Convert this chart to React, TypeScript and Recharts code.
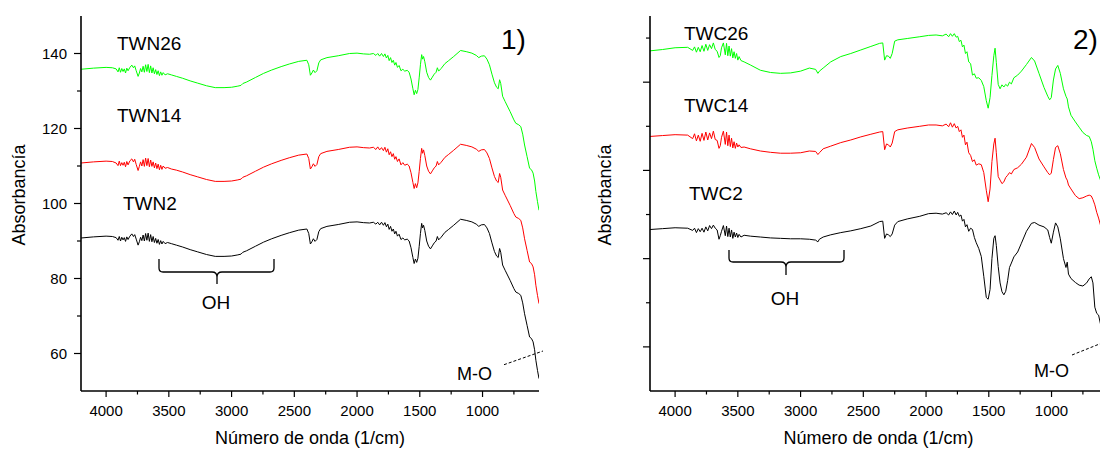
import React from 'react';
import { LineChart, Line, XAxis, YAxis } from 'recharts';

const FONT = "Arial, 'Liberation Sans', Helvetica, sans-serif";

// ---- panel 1 (TWN samples) ----
const wn1 = [
  4200, 4100, 4000, 3950, 3920, 3905, 3895, 3885, 3875, 3865,
  3855, 3845, 3835, 3825, 3810, 3795, 3782, 3772, 3760, 3745,
  3735, 3725, 3715, 3705, 3695, 3685, 3675, 3665, 3655, 3645,
  3635, 3625, 3615, 3605, 3595, 3585, 3575, 3565, 3555, 3545,
  3530, 3510, 3480, 3440, 3390, 3330, 3270, 3200, 3130, 3060,
  3000, 2950, 2925, 2910, 2880, 2810, 2745, 2680, 2605, 2540,
  2465, 2400, 2385, 2372, 2360, 2348, 2335, 2320, 2305, 2290,
  2240, 2150, 2060, 2000, 1950, 1900, 1870, 1850, 1835, 1820,
  1805, 1790, 1778, 1766, 1755, 1744, 1733, 1722, 1711, 1700,
  1690, 1678, 1665, 1650, 1635, 1620, 1600, 1585, 1570, 1555,
  1545, 1535, 1525, 1515, 1505, 1495, 1485, 1478, 1470, 1460,
  1445, 1430, 1415, 1400, 1385, 1370, 1360, 1350, 1330, 1300,
  1270, 1230, 1175, 1130, 1085, 1050, 1030, 1010, 985, 965,
  945, 925, 905, 888, 875, 864, 855, 840, 820, 780,
  750, 735, 712, 695, 680, 665, 645, 625, 610, 597,
  585, 575, 562, 550,
];

const twn2 = [
  90.8, 91.1, 91.3, 91.2, 90.9, 90.2, 91.2, 90.0, 91.0, 90.3,
  90.9, 89.9, 91.1, 90.4, 91.3, 91.9, 91.2, 91.7, 90.5, 88.9,
  89.8, 91.0, 90.1, 91.6, 90.0, 92.0, 90.2, 92.1, 89.9, 91.7,
  89.8, 91.2, 89.6, 90.7, 89.4, 90.4, 89.1, 90.1, 89.2, 89.9,
  89.3, 89.6, 89.3, 88.9, 88.4, 87.7, 87.1, 86.4, 85.9, 85.9,
  86.0, 86.3, 86.5, 87.0, 87.4, 88.6, 89.7, 90.6, 91.5, 92.2,
  92.9, 93.2, 92.0, 89.2, 89.8, 90.6, 89.9, 90.4, 92.5, 93.3,
  93.9, 94.4, 95.0, 95.1, 94.9, 94.8, 95.0, 94.5, 95.0, 94.3,
  95.0, 94.2, 94.9, 93.8, 94.5, 93.1, 93.9, 92.6, 93.2, 91.9,
  92.6, 91.3, 91.8, 90.4, 90.8, 90.3, 90.5, 90.0, 88.2, 85.6,
  84.0, 85.2, 84.3, 85.4, 88.5, 92.0, 94.7, 93.5, 94.2, 92.8,
  90.0, 88.6, 87.9, 88.7, 89.5, 90.0, 91.2, 90.3, 91.0, 92.3,
  93.1, 94.2, 95.8, 95.5, 95.1, 94.5, 93.9, 94.3, 94.4, 93.5,
  92.0, 89.5, 87.2, 86.0, 85.6, 88.0, 87.0, 83.6, 82.2, 79.5,
  77.3, 76.4, 76.0, 75.5, 73.5, 70.6, 67.5, 64.4, 64.0, 63.1,
  61.0, 58.2, 55.5, 53.3,
];

const twn14 = [
  110.8, 111.1, 111.3, 111.2, 110.8, 110.1, 111.3, 110.1, 110.9, 110.2,
  111.0, 109.8, 111.2, 110.3, 111.4, 111.9, 111.1, 111.8, 110.4, 108.8,
  109.9, 111.1, 110.0, 111.7, 109.9, 112.1, 110.1, 112.0, 109.8, 111.6,
  109.9, 111.1, 109.5, 110.8, 109.3, 110.5, 109.0, 110.2, 109.1, 110.0,
  109.4, 109.6, 109.2, 108.9, 108.4, 107.7, 107.1, 106.4, 105.9, 105.9,
  106.0, 106.3, 106.5, 107.0, 107.4, 108.6, 109.7, 110.6, 111.5, 112.2,
  112.9, 113.2, 112.0, 109.2, 109.8, 110.6, 109.9, 110.4, 112.5, 113.3,
  113.9, 114.4, 115.0, 115.1, 114.9, 114.8, 115.0, 114.4, 115.1, 114.3,
  114.9, 114.1, 115.0, 113.7, 114.6, 113.0, 113.8, 112.5, 113.3, 111.8,
  112.5, 111.2, 111.9, 110.3, 110.9, 110.2, 110.5, 110.0, 108.2, 105.6,
  104.0, 105.3, 104.2, 105.5, 108.5, 112.0, 114.7, 113.4, 114.3, 112.8,
  110.0, 108.6, 107.9, 108.7, 109.5, 110.0, 111.2, 110.3, 111.0, 112.3,
  113.1, 114.2, 115.8, 115.5, 115.1, 114.5, 113.9, 114.3, 114.4, 113.5,
  112.0, 109.5, 107.2, 106.0, 105.6, 108.0, 107.0, 103.6, 102.2, 99.5,
  97.3, 96.4, 96.0, 95.5, 93.5, 90.6, 87.5, 84.4, 84.0, 83.1,
  81.0, 78.2, 75.5, 73.3,
];

const twn26 = [
  135.8, 136.1, 136.3, 136.2, 135.9, 135.1, 136.2, 135.0, 136.0, 135.2,
  135.9, 134.8, 136.1, 135.4, 136.3, 136.9, 136.2, 136.7, 135.4, 133.9,
  134.8, 136.0, 135.1, 136.6, 135.0, 137.0, 135.2, 137.1, 134.9, 136.7,
  134.8, 136.2, 134.6, 135.7, 134.4, 135.4, 134.1, 135.1, 134.2, 134.9,
  134.3, 134.6, 134.3, 133.9, 133.4, 132.7, 132.1, 131.4, 130.9, 130.9,
  131.0, 131.3, 131.5, 132.0, 132.4, 133.6, 134.7, 135.6, 136.5, 137.2,
  137.9, 138.2, 137.0, 134.2, 134.8, 135.6, 134.9, 135.4, 137.5, 138.3,
  138.9, 139.4, 140.0, 140.1, 139.9, 139.8, 140.0, 139.5, 140.0, 139.3,
  140.0, 139.2, 139.9, 138.8, 139.5, 138.1, 138.9, 137.6, 138.2, 136.9,
  137.6, 136.3, 136.8, 135.4, 135.8, 135.3, 135.5, 135.0, 133.2, 130.6,
  129.0, 130.2, 129.3, 130.4, 133.5, 137.0, 139.7, 138.5, 139.2, 137.8,
  135.0, 133.6, 132.9, 133.7, 134.5, 135.0, 136.2, 135.3, 136.0, 137.3,
  138.1, 139.2, 140.8, 140.5, 140.1, 139.5, 138.9, 139.3, 139.4, 138.5,
  137.0, 134.5, 132.2, 131.0, 130.6, 133.0, 132.0, 128.6, 127.2, 124.5,
  122.3, 121.4, 121.0, 120.5, 118.5, 115.6, 112.5, 109.4, 109.0, 108.1,
  106.0, 103.2, 100.5, 98.2,
];

// ---- panel 2 (TWC samples) ----
const wn2 = [
  4200, 4100, 4000, 3900, 3860, 3845, 3830, 3815, 3800, 3785,
  3770, 3755, 3740, 3725, 3710, 3695, 3680, 3665, 3650, 3640,
  3630, 3615, 3600, 3590, 3580, 3570, 3560, 3550, 3540, 3530,
  3520, 3510, 3500, 3490, 3475, 3450, 3400, 3320, 3240, 3160,
  3080, 3000, 2930, 2880, 2862, 2850, 2820, 2760, 2680, 2600,
  2520, 2440, 2370, 2345, 2330, 2315, 2300, 2285, 2270, 2250,
  2225, 2150, 2050, 1980, 1920, 1870, 1840, 1820, 1805, 1790,
  1775, 1760, 1748, 1735, 1722, 1710, 1698, 1686, 1674, 1660,
  1645, 1630, 1615, 1600, 1580, 1560, 1540, 1520, 1505, 1490,
  1475, 1460, 1450, 1440, 1425, 1410, 1395, 1380, 1365, 1350,
  1335, 1320, 1300, 1270, 1240, 1200, 1160, 1135, 1100, 1060,
  1030, 1015, 1002, 985, 968, 950, 930, 905, 885, 875,
  865, 845, 810, 780, 750, 720, 700, 683, 670, 655,
  640, 625, 610, 595, 580, 565, 550,
];

const twc2 = [
  86.6, 86.8, 87.0, 86.9, 86.4, 86.9, 85.9, 86.8, 86.1, 86.9,
  86.0, 87.2, 86.3, 87.5, 86.8, 87.6, 86.9, 86.5, 84.4, 85.2,
  86.2, 87.5, 85.2, 87.4, 85.0, 86.9, 84.9, 86.5, 84.6, 86.0,
  84.9, 85.8, 84.8, 85.5, 84.9, 85.3, 85.1, 84.9, 84.7, 84.6,
  84.5, 84.5, 84.4, 84.2, 83.8, 84.4, 84.9, 85.4, 85.9, 86.3,
  86.8, 87.4, 88.4, 88.5, 84.6, 85.6, 85.4, 85.0, 85.6, 87.6,
  88.4, 89.0, 89.6, 90.2, 90.3, 90.1, 90.4, 89.9, 90.6, 90.0,
  90.8, 89.9, 90.5, 89.6, 89.9, 88.5, 88.9, 87.2, 87.7, 86.2,
  86.9, 86.6, 84.8, 83.6, 82.3, 80.5, 76.0, 71.2, 70.8, 73.0,
  80.0, 84.6, 85.2, 83.0, 78.2, 74.5, 72.5, 71.8, 72.6, 75.0,
  78.0, 79.0, 80.4, 81.5, 83.5, 86.2, 88.0, 88.2, 87.6, 87.2,
  86.5, 84.8, 83.5, 86.0, 88.1, 87.2, 84.5, 80.0, 78.0, 79.2,
  76.5, 75.5, 74.6, 74.0, 73.8, 74.5, 75.4, 75.9, 74.5, 69.0,
  67.6, 67.2, 65.2, 63.8, 61.5, 58.5, 55.5,
];

const twc14 = [
  107.7, 107.9, 108.1, 108.0, 107.2, 108.3, 106.7, 108.0, 106.6, 108.4,
  106.8, 108.7, 106.9, 108.5, 107.2, 108.9, 107.0, 106.8, 105.0, 105.6,
  107.5, 108.9, 105.9, 108.7, 105.6, 108.0, 105.4, 107.3, 105.1, 106.5,
  105.0, 106.2, 105.3, 105.8, 105.2, 105.3, 104.9, 104.4, 104.1, 103.9,
  103.9, 104.0, 104.4, 104.3, 103.6, 104.0, 104.9, 105.5, 106.3, 106.9,
  107.6, 108.2, 108.7, 108.8, 104.7, 106.0, 105.8, 105.3, 106.2, 108.8,
  109.2, 109.6, 110.0, 110.3, 110.3, 110.1, 110.5, 109.9, 110.8, 109.8,
  110.6, 109.6, 110.0, 108.8, 109.2, 107.5, 108.0, 105.8, 106.4, 104.0,
  103.4, 102.0, 102.4, 101.2, 101.5, 101.3, 99.5, 95.5, 92.9, 95.8,
  102.0, 106.0, 107.3, 104.0, 98.6, 97.8, 97.0, 97.4, 98.4, 98.9,
  99.5, 99.2, 100.2, 100.6, 101.4, 103.0, 106.1, 105.2, 102.6, 100.8,
  99.5, 99.0, 99.4, 102.5, 105.2, 105.6, 103.8, 100.2, 98.3, 97.8,
  96.7, 95.8, 94.3, 93.6, 93.8, 94.2, 94.4, 94.2, 93.4, 92.2,
  90.5, 89.2, 87.6, 86.3, 85.0, 83.0, 81.0,
];

const twc26 = [
  127.1, 127.4, 127.8, 127.9, 127.2, 128.0, 126.8, 127.9, 126.9, 128.3,
  127.0, 128.6, 127.2, 128.5, 127.6, 128.9, 127.4, 127.0, 125.6, 126.0,
  127.8, 128.9, 126.2, 128.8, 126.0, 128.2, 125.9, 127.6, 125.5, 126.9,
  125.4, 126.5, 125.0, 125.8, 124.9, 124.6, 123.9, 122.7, 122.2, 122.0,
  122.1, 122.5, 123.2, 122.9, 122.0, 122.5, 123.2, 124.6, 125.8, 126.5,
  127.3, 128.1, 128.8, 128.9, 125.0, 126.0, 125.9, 125.4, 126.5, 129.3,
  129.6, 129.9, 130.3, 130.6, 130.7, 130.5, 130.9, 130.3, 131.0, 130.4,
  131.0, 130.2, 130.4, 129.2, 129.5, 128.0, 128.4, 126.5, 126.9, 124.6,
  124.2, 121.6, 121.9, 120.9, 121.0, 120.4, 119.0, 115.8, 114.1, 116.5,
  121.5, 126.0, 127.7, 124.5, 119.5, 118.5, 119.4, 118.9, 119.5, 119.1,
  120.0, 119.6, 121.0, 121.6, 122.5, 124.0, 125.6, 124.8, 122.0, 118.8,
  116.8, 116.0, 116.5, 120.5, 123.0, 123.8, 122.0, 118.5, 116.8, 116.2,
  114.4, 112.5, 111.0, 109.8, 108.6, 107.9, 107.7, 106.5, 104.8, 102.2,
  100.5, 99.0, 97.8, 96.5, 95.0, 93.0, 91.0,
];

const xTicks = [4000, 3750, 3500, 3250, 3000, 2750, 2500, 2250, 2000, 1750, 1500, 1250, 1000, 750];
const yTicks1 = [60, 70, 80, 90, 100, 110, 120, 130, 140];
const yTicks2 = [60, 70, 80, 90, 100, 110, 120, 130];

const toPoints = (w: number[], v: number[]) => w.map((x, i) => ({ w: x, v: v[i] }));

const panel1 = [
  { name: 'TWN2', color: '#000000', data: toPoints(wn1, twn2) },
  { name: 'TWN14', color: '#ff0000', data: toPoints(wn1, twn14) },
  { name: 'TWN26', color: '#00ff00', data: toPoints(wn1, twn26) },
];
const panel2 = [
  { name: 'TWC2', color: '#000000', data: toPoints(wn2, twc2) },
  { name: 'TWC14', color: '#ff0000', data: toPoints(wn2, twc14) },
  { name: 'TWC26', color: '#00ff00', data: toPoints(wn2, twc26) },
];

const BottomTick = (p: any) => {
  const major = p.payload.value % 500 === 0;
  return (
    <g>
      <line x1={p.x} x2={p.x} y1={p.y} y2={p.y + (major ? 6 : 3.5)} stroke="#000" strokeWidth={1.2} />
      {major && (
        <text x={p.x} y={p.y + 25} textAnchor="middle" fontSize={15} fontFamily={FONT} fill="#000">
          {p.payload.value}
        </text>
      )}
    </g>
  );
};

const TopTick = (p: any) => {
  const major = p.payload.value % 500 === 0;
  return <line x1={p.x} x2={p.x} y1={p.y} y2={p.y + (major ? 5 : 3)} stroke="#000" strokeWidth={1.2} />;
};

const LeftTick = (p: any, labels: boolean, majorStep: number) => {
  const major = p.payload.value % majorStep === 0;
  return (
    <g>
      <line x1={p.x} x2={p.x - (major ? 7 : 4)} y1={p.y} y2={p.y} stroke="#000" strokeWidth={1.2} />
      {labels && major && (
        <text x={p.x - 14} y={p.y} dy="0.36em" textAnchor="end" fontSize={15} fontFamily={FONT} fill="#000">
          {p.payload.value}
        </text>
      )}
    </g>
  );
};

const RightTick = (p: any) => {
  const major = p.payload.value % 20 === 0;
  return <line x1={p.x} x2={p.x - (major ? 5 : 3)} y1={p.y} y2={p.y} stroke="#000" strokeWidth={1.2} />;
};

const spine = { stroke: '#000', strokeWidth: 1.6 };

function Panel({ left, series, yDomain, yTicks, labels }: any) {
  return (
    <div style={{ position: 'absolute', left, top: 0 }}>
      <LineChart width={560} height={449} margin={{ top: 16, right: 21, bottom: 0, left: 0 }}>
        <XAxis
          xAxisId="b" dataKey="w" type="number" domain={[550, 4200]} reversed allowDataOverflow
          ticks={xTicks} interval={0} tickSize={0} tickMargin={0} tickLine={false}
          height={58} axisLine={spine} tick={BottomTick}
        />
        <XAxis
          xAxisId="t" orientation="top" dataKey="w" type="number" domain={[550, 4200]} reversed allowDataOverflow
          ticks={xTicks} interval={0} tickSize={0} tickMargin={0} tickLine={false}
          height={0} axisLine={spine} tick={TopTick}
        />
        <YAxis
          yAxisId="l" type="number" domain={yDomain} allowDataOverflow
          ticks={yTicks} interval={0} tickSize={0} tickMargin={0} tickLine={false}
          width={81} axisLine={spine} tick={(p: any) => LeftTick(p, labels, 20)}
        />
        <YAxis
          yAxisId="r" orientation="right" type="number" domain={yDomain} allowDataOverflow
          ticks={yTicks} interval={0} tickSize={0} tickMargin={0} tickLine={false}
          width={0} axisLine={spine} tick={RightTick}
        />
        {series.map((s: any) => (
          <Line
            key={s.name} xAxisId="b" yAxisId="l" data={s.data} dataKey="v" type="linear"
            stroke={s.color} strokeWidth={1} dot={false} activeDot={false} isAnimationActive={false}
          />
        ))}
      </LineChart>
    </div>
  );
}

const txt = { fontFamily: FONT, fill: '#000' };

function Notes() {
  return (
    <svg width={1100} height={449} style={{ position: 'absolute', left: 0, top: 0, pointerEvents: 'none' }}>
      {/* panel 1 */}
      <text x={117} y={49.5} fontSize={19} {...txt}>TWN26</text>
      <text x={117} y={121.5} fontSize={19} {...txt}>TWN14</text>
      <text x={123} y={210} fontSize={19} {...txt}>TWN2</text>
      <text x={501} y={49} fontSize={28} {...txt}>1)</text>
      <path d="M159,259 L159,268 Q159,272 163,272 L212,272 Q217,272 217,277 L217,284 M217,277 Q217,272 222,272 L270,272 Q274,272 274,268 L274,259"
        fill="none" stroke="#000" strokeWidth={1.3} />
      <text x={216} y={309} fontSize={19} textAnchor="middle" {...txt}>OH</text>
      <text x={457} y={380} fontSize={18} {...txt}>M-O</text>
      <line x1={504} y1={364.7} x2={543} y2={351} stroke="#000" strokeWidth={1} strokeDasharray="3 2" />
      <text x={310} y={444} fontSize={18} textAnchor="middle" {...txt}>Número de onda (1/cm)</text>
      <text x={25} y={195} fontSize={18} textAnchor="middle" transform="rotate(-90 25 195)" {...txt}>Absorbancía</text>

      {/* panel 2 */}
      <text x={684} y={40} fontSize={19} {...txt}>TWC26</text>
      <text x={684} y={112} fontSize={19} {...txt}>TWC14</text>
      <text x={689} y={200} fontSize={19} {...txt}>TWC2</text>
      <text x={1073} y={49} fontSize={28} {...txt}>2)</text>
      <path d="M729,250 L729,258 Q729,262 733,262 L781,262 Q786,262 786,267 L786,275 M786,267 Q786,262 791,262 L840,262 Q844,262 844,258 L844,250"
        fill="none" stroke="#000" strokeWidth={1.3} />
      <text x={785} y={305} fontSize={19} textAnchor="middle" {...txt}>OH</text>
      <text x={1034} y={377} fontSize={18} {...txt}>M-O</text>
      <line x1={1072} y1={355} x2={1112} y2={339} stroke="#000" strokeWidth={1} strokeDasharray="3 2" />
      <text x={878.5} y={444} fontSize={18} textAnchor="middle" {...txt}>Número de onda (1/cm)</text>
      <text x={611} y={195} fontSize={18} textAnchor="middle" transform="rotate(-90 611 195)" {...txt}>Absorbancía</text>
    </svg>
  );
}

export default function App() {
  return (
    <div style={{ position: 'fixed', left: 0, top: 0, width: 1100, height: 449, overflow: 'hidden', background: '#fff' }}>
      <Panel left={0} series={panel1} yDomain={[50, 150]} yTicks={yTicks1} labels />
      <Panel left={569} series={panel2} yDomain={[50, 135]} yTicks={yTicks2} labels={false} />
      <Notes />
    </div>
  );
}
